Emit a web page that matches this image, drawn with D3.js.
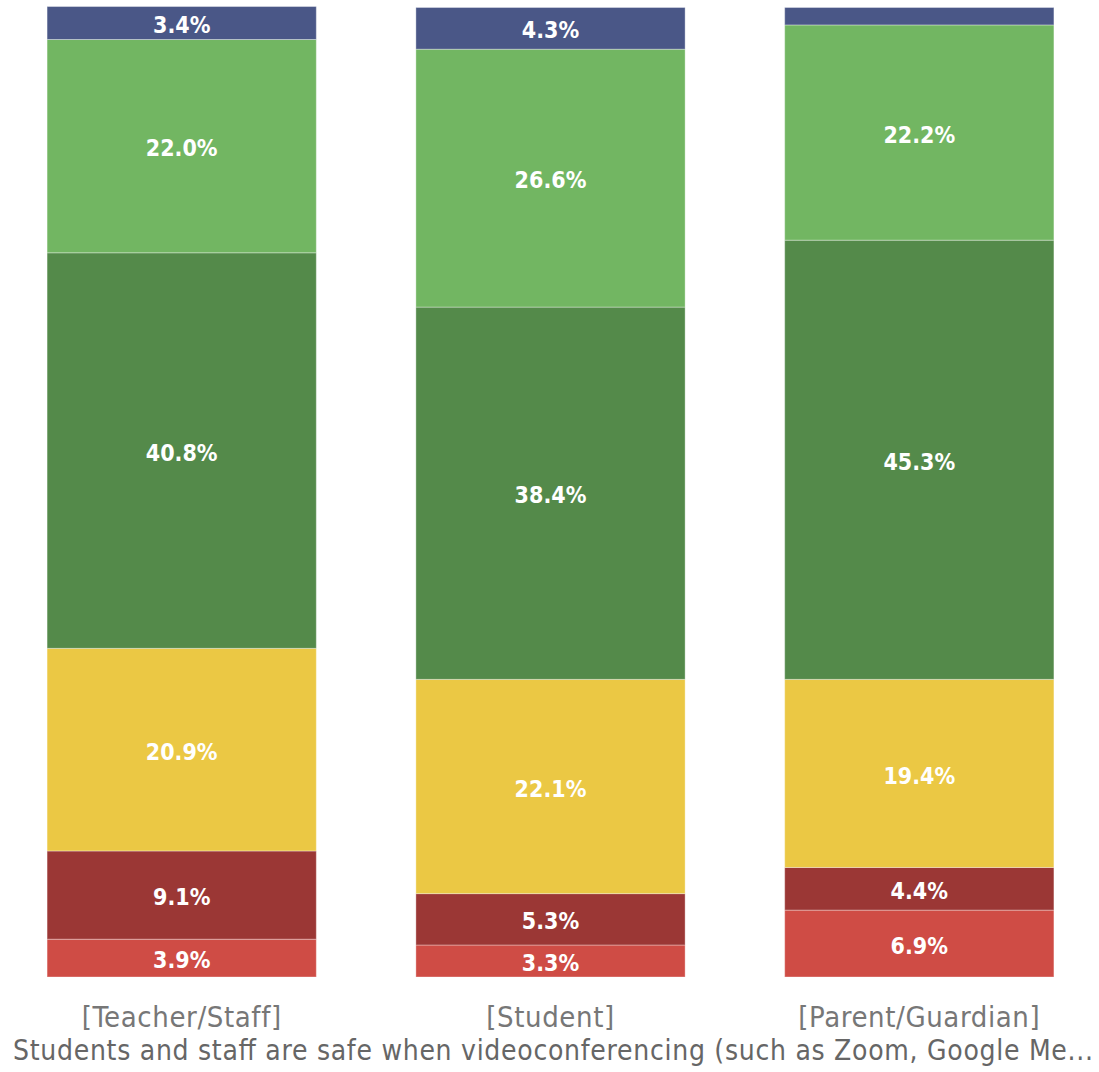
<!DOCTYPE html>
<html><head><meta charset="utf-8">
<script src="https://cdn.jsdelivr.net/npm/d3@7"></script>
<style>body{margin:0;background:#fff}</style>
</head><body>
<svg id="c" width="1099" height="1072"></svg>
<script>
const categories = ["[Teacher/Staff]", "[Student]", "[Parent/Guardian]"];
const seriesNames = ["s1","s2","s3","s4","s5","s6"]; // bottom to top
const s1 = [3.9, 3.3, 6.9];
const s2 = [9.1, 5.3, 4.4];
const s3 = [20.9, 22.1, 19.4];
const s4 = [40.8, 38.4, 45.3];
const s5 = [22.0, 26.6, 22.2];
const s6 = [3.4, 4.3, 1.8];
const showLabel = [[true,true,true],[true,true,true],[true,true,true],[true,true,true],[true,true,true],[true,true,false]];
const colors = ["#cf4c45","#9b3735","#ebc844","#548a4a","#72b662","#4a5787"];
const axisTitle = "Students and staff are safe when videoconferencing (such as Zoom, Google Me...";

const series = [s1,s2,s3,s4,s5,s6];
const rows = categories.map((c,i)=>{const o={cat:c}; seriesNames.forEach((n,j)=>o[n]=series[j][i]); return o;});
const stack = d3.stack().keys(seriesNames)(rows);

const svg = d3.select("#c");
const font = "'DejaVu Sans Condensed','DejaVu Sans',sans-serif";
const x = d3.scaleBand().domain(categories).range([-2.7, 1103.7]).paddingInner(0.27).paddingOuter(0.135);
const y = d3.scaleLinear().domain([0, 100]).range([977, 7.5]);

const g = svg.append("g");
stack.forEach((layer, j) => {
  const lg = g.append("g");
  lg.selectAll("rect").data(layer).join("rect")
    .attr("x", d => x(d.data.cat))
    .attr("width", x.bandwidth())
    .attr("y", d => y(d[1]))
    .attr("height", d => y(d[0]) - y(d[1]))
    .attr("fill", colors[j])
    .attr("stroke", "rgba(255,255,255,0.35)")
    .attr("stroke-width", 1);
  lg.selectAll("text").data(layer).join("text")
    .filter((d,i) => showLabel[j][i])
    .attr("x", d => x(d.data.cat) + x.bandwidth()/2)
    .attr("y", d => (y(d[0]) + y(d[1]))/2)
    .attr("dy", "0.44em")
    .attr("text-anchor", "middle")
    .attr("fill", "#fff")
    .attr("font-family", font)
    .attr("font-weight", "bold")
    .attr("font-size", 23)
    .text(d => (d[1]-d[0]).toFixed(1) + "%");
});

const ax = svg.append("g").attr("transform", "translate(0,977)")
  .call(d3.axisBottom(x).tickSize(0).tickPadding(0));
ax.select(".domain").remove();
ax.selectAll("text").attr("dy", null).attr("y", 50)
  .attr("font-family", font).attr("font-size", 29).attr("fill", "#777")
  .attr("letter-spacing", 0.6);

svg.append("text")
  .attr("x", 13).attr("y", 1060)
  .attr("textLength", 1080).attr("lengthAdjust", "spacing")
  .attr("font-family", font).attr("font-size", 28).attr("fill", "#666")
  .text(axisTitle);
</script>
</body></html>
